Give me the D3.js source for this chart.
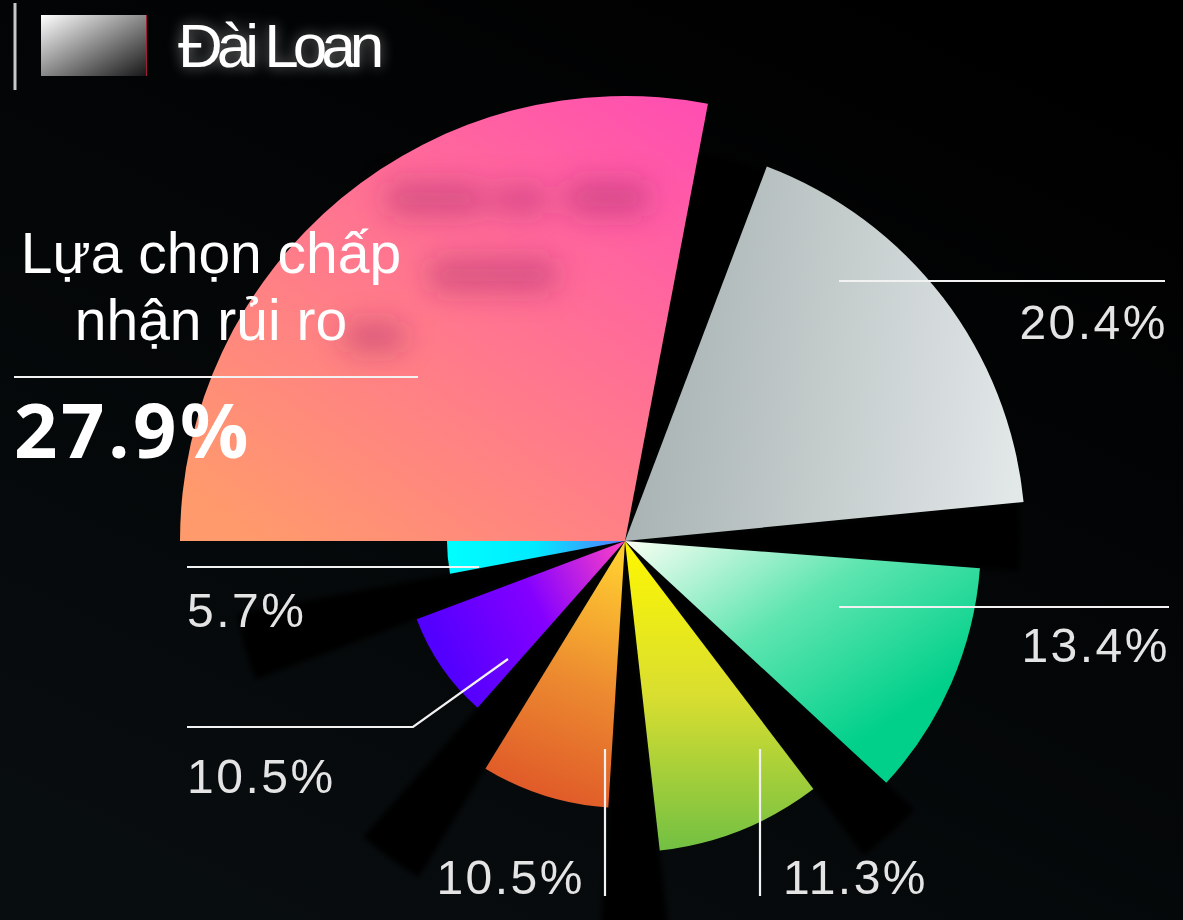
<!DOCTYPE html>
<html>
<head>
<meta charset="utf-8">
<script src="https://cdn.jsdelivr.net/npm/d3@7"></script>
<style>
    html, body { margin: 0; padding: 0; background: #000; }
    svg { display: block; }
</style>
</head>
<body>
<div id="chart"></div>
<script>
// slices, clockwise from 9 o'clock
const categories = ["Lựa chọn chấp nhận rủi ro", "xám", "xanh lá", "vàng", "cam", "tím", "xanh lam"];
const values = [27.9, 20.4, 13.4, 11.3, 10.5, 10.5, 5.7];
const legendLabel = "Đài Loan";

// gradient stops per slice (direction set in gradDirs)
const sliceColors = [
    ["#ff4db3", "#ff7590", "#ff9a6c"],
    ["#a7b1b1", "#c3cbcb", "#e2e7e8"],
    ["#fbfff4", "#5fe5b0", "#00d08a"],
    ["#fff700", "#d9de30", "#72c043"],
    ["#ffcc30", "#ec8a30", "#df5628"],
    ["#ff44c4", "#8400ff", "#5200ff"],
    ["#00ffff", "#00eaff", "#5a78ff"]
];
const gradDirs = [
    [1, 0, 0.15, 1],
    [0, 0.5, 1, 0.6],
    [0, 0, 0.75, 0.75],
    [0.5, 0, 0.5, 1],
    [0.6, 0, 0.4, 1],
    [1, 0, 0, 0.4],
    [0, 0.5, 1, 0.5]
];

// leader lines and value labels (index 0 uses the title block)
const labelLayout = [
    null,
    { pts: [[839, 281], [1165, 281]], tx: 1168, ty: 339, anchor: "end" },
    { pts: [[839, 607], [1169, 607]], tx: 1170, ty: 662, anchor: "end" },
    { pts: [[760, 749], [760, 896]], tx: 783, ty: 894, anchor: "start" },
    { pts: [[605, 749], [605, 896]], tx: 585, ty: 894, anchor: "end" },
    { pts: [[508, 659], [413, 727], [187, 727]], tx: 187, ty: 793, anchor: "start" },
    { pts: [[479, 567], [187, 567]], tx: 187, ty: 627, anchor: "start" }
];

// soft darker smudges on the main slice
const smudges = [
    { x: 385, y: 182, w: 100, h: 34 },
    { x: 490, y: 186, w: 60, h: 28 },
    { x: 565, y: 180, w: 85, h: 36 },
    { x: 428, y: 258, w: 130, h: 34 },
    { x: 342, y: 322, w: 64, h: 30 }
];

const width = 1183, height = 920;
const cx = 625, cy = 541;
const gap = 10 * Math.PI / 180;

const data = categories.map((c, i) => ({ name: c, value: values[i] }));

const svg = d3.select("#chart").append("svg")
    .attr("width", width)
    .attr("height", height);

const defs = svg.append("defs");

const bg = defs.append("linearGradient").attr("id", "bg")
    .attr("x1", 0.75).attr("y1", 0).attr("x2", 0.15).attr("y2", 1);
bg.append("stop").attr("offset", 0).attr("stop-color", "#000000");
bg.append("stop").attr("offset", 1).attr("stop-color", "#080d0f");

svg.append("rect").attr("width", width).attr("height", height).attr("fill", "url(#bg)");

sliceColors.forEach((cols, i) => {
    const g = defs.append("linearGradient").attr("id", "sg" + i)
        .attr("x1", gradDirs[i][0]).attr("y1", gradDirs[i][1])
        .attr("x2", gradDirs[i][2]).attr("y2", gradDirs[i][3]);
    cols.forEach((c, j) => {
        g.append("stop").attr("offset", j / (cols.length - 1)).attr("stop-color", c);
    });
});

const soft = defs.append("filter").attr("id", "soft")
    .attr("x", "-20%").attr("y", "-20%").attr("width", "140%").attr("height", "140%");
soft.append("feGaussianBlur").attr("stdDeviation", 2.5);

const smudge = defs.append("filter").attr("id", "smudge")
    .attr("x", "-80%").attr("y", "-200%").attr("width", "260%").attr("height", "500%");
smudge.append("feGaussianBlur").attr("stdDeviation", 14);

const glow = defs.append("filter").attr("id", "glow")
    .attr("x", "-30%").attr("y", "-60%").attr("width", "160%").attr("height", "220%");
glow.append("feGaussianBlur").attr("in", "SourceAlpha").attr("stdDeviation", 7).attr("result", "b");
glow.append("feFlood").attr("flood-color", "#ffffff").attr("flood-opacity", 0.45);
glow.append("feComposite").attr("in2", "b").attr("operator", "in").attr("result", "g");
const gm = glow.append("feMerge");
gm.append("feMergeNode").attr("in", "g");
gm.append("feMergeNode").attr("in", "SourceGraphic");

const lg = defs.append("linearGradient").attr("id", "legendGrad")
    .attr("x1", 0).attr("y1", 0).attr("x2", 1).attr("y2", 1);
lg.append("stop").attr("offset", 0).attr("stop-color", "#ffffff");
lg.append("stop").attr("offset", 0.5).attr("stop-color", "#8a8a8a");
lg.append("stop").attr("offset", 1).attr("stop-color", "#161616");

const pie = d3.pie()
    .sort(null)
    .value(d => d.value)
    .startAngle(-Math.PI / 2)
    .endAngle(3 * Math.PI / 2);

const arcs = pie(data);

const radius = d3.scaleLinear().domain([0, data.length - 1]).range([445, 178]);

const gapArc = d3.arc()
    .innerRadius(0)
    .outerRadius(395)
    .startAngle(d => d.startAngle)
    .endAngle(d => d.startAngle + gap);

const sliceArc = d3.arc()
    .innerRadius(0)
    .outerRadius(d => radius(d.index))
    .startAngle(d => d.index === 0 ? d.startAngle : d.startAngle + gap)
    .endAngle(d => d.endAngle);

const g = svg.append("g").attr("transform", `translate(${cx},${cy})`);

// dark wedges in front of each slice
g.selectAll("path.gap")
    .data(arcs.filter(d => d.index > 0))
    .join("path")
    .attr("class", "gap")
    .attr("d", gapArc)
    .attr("fill", "#000")
    .attr("filter", "url(#soft)");

g.selectAll("path.slice")
    .data(arcs)
    .join("path")
    .attr("class", "slice")
    .attr("d", sliceArc)
    .attr("fill", d => `url(#sg${d.index})`);

svg.append("g")
    .attr("filter", "url(#smudge)")
    .selectAll("rect")
    .data(smudges)
    .join("rect")
    .attr("x", d => d.x).attr("y", d => d.y)
    .attr("width", d => d.w).attr("height", d => d.h)
    .attr("rx", 14)
    .attr("fill", "#a02a66")
    .attr("opacity", 0.4);

// leader lines + value labels
const line = d3.line();
const labelled = arcs.filter(d => labelLayout[d.index]);

svg.selectAll("path.leader")
    .data(labelled)
    .join("path")
    .attr("class", "leader")
    .attr("d", d => line(labelLayout[d.index].pts))
    .attr("fill", "none")
    .attr("stroke", "#f2f2f2")
    .attr("stroke-width", 2.2);

svg.selectAll("text.val")
    .data(labelled)
    .join("text")
    .attr("class", "val")
    .attr("x", d => labelLayout[d.index].tx)
    .attr("y", d => labelLayout[d.index].ty)
    .attr("text-anchor", d => labelLayout[d.index].anchor)
    .attr("fill", "#e4e4e4")
    .style("font-family", "'Liberation Sans', Arial, sans-serif")
    .style("font-size", "48px")
    .style("letter-spacing", "2.5px")
    .text(d => d3.format(".1f")(d.value) + "%");

// title block for the main slice
const main = arcs[0];
const title = svg.append("g")
    .attr("fill", "#ffffff")
    .style("font-family", "'Liberation Sans', Arial, sans-serif");
title.append("text").attr("x", 211).attr("y", 273)
    .attr("text-anchor", "middle").style("font-size", "57px").text("Lựa chọn chấp");
title.append("text").attr("x", 211).attr("y", 340)
    .attr("text-anchor", "middle").style("font-size", "57px").text("nhận rủi ro");
svg.append("line")
    .attr("x1", 14).attr("x2", 418).attr("y1", 377).attr("y2", 377)
    .attr("stroke", "#f2f2f2").attr("stroke-width", 2);
svg.append("text")
    .attr("x", 14).attr("y", 458)
    .attr("fill", "#ffffff")
    .style("font-family", "'Open Sans', 'Noto Sans', sans-serif")
    .style("font-weight", 700)
    .style("font-size", "76px")
    .style("letter-spacing", "3.5px")
    .text(d3.format(".1f")(main.data.value) + "%");

// legend
svg.append("line")
    .attr("x1", 15).attr("x2", 15).attr("y1", 3).attr("y2", 90)
    .attr("stroke", "#c8c8c8").attr("stroke-width", 3);
svg.append("rect")
    .attr("x", 41).attr("y", 15).attr("width", 106).attr("height", 61)
    .attr("fill", "url(#legendGrad)");
svg.append("line")
    .attr("x1", 146.5).attr("x2", 146.5).attr("y1", 15).attr("y2", 76)
    .attr("stroke", "#a01e3c").attr("stroke-width", 1);
svg.append("text")
    .attr("x", 178).attr("y", 67)
    .attr("fill", "#ffffff")
    .attr("filter", "url(#glow)")
    .style("font-family", "'Liberation Sans', Arial, sans-serif")
    .style("font-size", "62px")
    .style("letter-spacing", "-6px")
    .text(legendLabel);
</script>
</body>
</html>
